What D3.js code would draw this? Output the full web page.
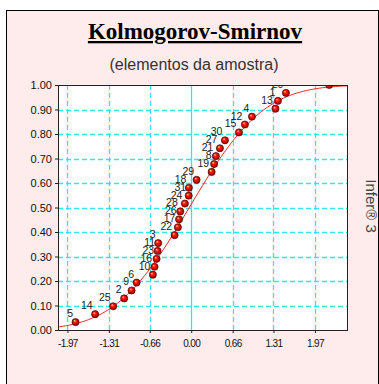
<!DOCTYPE html>
<html><head><meta charset="utf-8">
<script src="https://cdn.jsdelivr.net/npm/d3@7"></script>
<style>
html,body{margin:0;padding:0;background:#fff;}
svg{display:block;}
</style></head><body>
<svg id="chart" width="379" height="384"></svg>
<script>
// Sample element ids, in ascending order of their standardized value
const sampleIds = [5,14,25,2,9,6,10,16,23,11,3,22,17,26,28,24,31,18,29,19,8,21,27,30,15,12,4,13,1,20,7];
// Standardized values of the sorted sample
const sampleValues = [-1.841,-1.529,-1.242,-1.067,-0.949,-0.869,-0.610,-0.583,-0.551,-0.535,-0.525,
  -0.264,-0.212,-0.193,-0.174,-0.100,-0.040,-0.037,0.086,0.325,0.365,0.393,0.457,0.537,
  0.760,0.855,0.967,1.341,1.381,1.508,2.197];
const xTickValues = [-1.97,-1.31,-0.66,0,0.66,1.31,1.97];
const xTickLabels = ["-1.97","-1.31","-0.66","0.00","0.66","1.31","1.97"];
const yTickValues = [0,0.1,0.2,0.3,0.4,0.5,0.6,0.7,0.8,0.9,1.0];
const xDomain = [-2.12, 2.48];
// Fitted normal distribution drawn as the reference curve
const fitMean = -0.03, fitSd = 0.93;

const svg = d3.select("#chart");
const plot = {left: 58, top: 85, right: 347, bottom: 330};

const x = d3.scaleLinear().domain(xDomain).range([plot.left, plot.right]);
const y = d3.scaleLinear().domain([0, 1]).range([plot.bottom, plot.top]);

// outer panel
svg.append("rect").attr("x", 6.5).attr("y", 10.5).attr("width", 372).attr("height", 390)
  .attr("fill", "#fdeceb").attr("stroke", "#000").attr("stroke-width", 1);

// titles
svg.append("text").attr("x", 195).attr("y", 39).attr("text-anchor", "middle")
  .attr("font-family", "Liberation Serif, Times New Roman, serif").attr("font-weight", "bold")
  .attr("font-size", 23).attr("text-decoration", "underline").attr("fill", "#000")
  .text("Kolmogorov-Smirnov");
svg.append("text").attr("x", 194).attr("y", 70).attr("text-anchor", "middle")
  .attr("font-family", "Liberation Sans, Arial, sans-serif")
  .attr("font-size", 16).attr("fill", "#333")
  .text("(elementos da amostra)");

// side caption
svg.append("text").attr("transform", "translate(366,206) rotate(90)").attr("text-anchor", "middle")
  .attr("font-family", "Liberation Sans, Arial, sans-serif").attr("font-size", 15).attr("fill", "#444")
  .text("Infer\u00AE 3");

// plot background
svg.append("rect").attr("x", plot.left).attr("y", plot.top)
  .attr("width", plot.right - plot.left).attr("height", plot.bottom - plot.top).attr("fill", "#fff");

// grid
const grid = svg.append("g").attr("stroke", "#2ee6ee").attr("stroke-width", 1.3);
grid.selectAll("line.h").data(yTickValues.filter(v => v > 0 && v < 1)).join("line")
  .attr("x1", plot.left).attr("x2", plot.right)
  .attr("y1", d => Math.round(y(d)) + 0.5).attr("y2", d => Math.round(y(d)) + 0.5)
  .attr("stroke-dasharray", "5,3");
grid.selectAll("line.v").data(xTickValues).join("line")
  .attr("x1", d => Math.round(x(d)) + 0.5).attr("x2", d => Math.round(x(d)) + 0.5)
  .attr("y1", plot.top).attr("y2", plot.bottom)
  .attr("stroke-dasharray", d => d === 0 ? null : "5,3");

// axes
const xAxis = d3.axisBottom(x).tickValues(xTickValues).tickSize(3).tickPadding(7)
  .tickFormat((d, i) => xTickLabels[i]);
const gx = svg.append("g").attr("transform", `translate(0,${plot.bottom})`).call(xAxis);
gx.select(".domain").remove();
gx.selectAll("text").attr("font-family", "Liberation Sans, Arial, sans-serif").attr("font-size", 10)
  .attr("letter-spacing", -0.6).attr("fill", "#111");
gx.selectAll("line").attr("stroke", "#222");

const yAxis = d3.axisLeft(y).tickValues(yTickValues).tickSize(3).tickPadding(3)
  .tickFormat(d3.format(".2f"));
const gy = svg.append("g").attr("transform", `translate(${plot.left},0)`).call(yAxis);
gy.select(".domain").remove();
gy.selectAll("text").attr("font-family", "Liberation Sans, Arial, sans-serif").attr("font-size", 11)
  .attr("fill", "#111");
gy.selectAll("line").attr("stroke", "#222");

// clip to plot
svg.append("clipPath").attr("id", "plotClip").append("rect")
  .attr("x", plot.left).attr("y", plot.top)
  .attr("width", plot.right - plot.left).attr("height", plot.bottom - plot.top);

// normal CDF
function erf(z) {
  const s = Math.sign(z); z = Math.abs(z);
  const t = 1 / (1 + 0.3275911 * z);
  const p = 1 - (((((1.061405429 * t - 1.453152027) * t) + 1.421413741) * t - 0.284496736) * t + 0.254829592) * t * Math.exp(-z * z);
  return s * p;
}
const cdf = v => 0.5 * (1 + erf((v - fitMean) / (fitSd * Math.SQRT2)));
const curveX = d3.range(0, 201).map(i => xDomain[0] + (xDomain[1] - xDomain[0]) * i / 200);
const line = d3.line().x(d => x(d)).y(d => y(cdf(d)));
svg.append("path").datum(curveX).attr("d", line).attr("fill", "none")
  .attr("stroke", "#f02020").attr("stroke-width", 1).attr("clip-path", "url(#plotClip)");

// shaded marker
const defs = svg.append("defs");
const grad = defs.append("radialGradient").attr("id", "ball").attr("cx", "50%").attr("cy", "50%")
  .attr("r", "55%").attr("fx", "35%").attr("fy", "30%");
grad.append("stop").attr("offset", "0%").attr("stop-color", "#ffd0c0");
grad.append("stop").attr("offset", "35%").attr("stop-color", "#ff1a00");
grad.append("stop").attr("offset", "100%").attr("stop-color", "#8a0000");

const n = sampleValues.length;
const pts = sampleValues.map((v, i) => ({v, p: (i + 1) / n, id: sampleIds[i]}));

const labels = svg.append("g").attr("clip-path", "url(#plotClip)")
  .attr("font-family", "Liberation Sans, Arial, sans-serif").attr("font-size", 10.5).attr("fill", "#222");
labels.selectAll("text").data(pts).join("text")
  .attr("x", d => x(d.v) - 2.5).attr("y", d => y(d.p) - 5)
  .attr("text-anchor", "end").text(d => d.id);

svg.append("g").attr("clip-path", "url(#plotClip)").selectAll("circle").data(pts).join("circle")
  .attr("cx", d => x(d.v)).attr("cy", d => y(d.p)).attr("r", 3.6)
  .attr("fill", "url(#ball)").attr("stroke", "#400").attr("stroke-width", 0.6);

// plot frame
svg.append("rect").attr("x", plot.left + 0.5).attr("y", plot.top + 0.5)
  .attr("width", plot.right - plot.left).attr("height", plot.bottom - plot.top)
  .attr("fill", "none").attr("stroke", "#222").attr("stroke-width", 1);
</script>
</body></html>
